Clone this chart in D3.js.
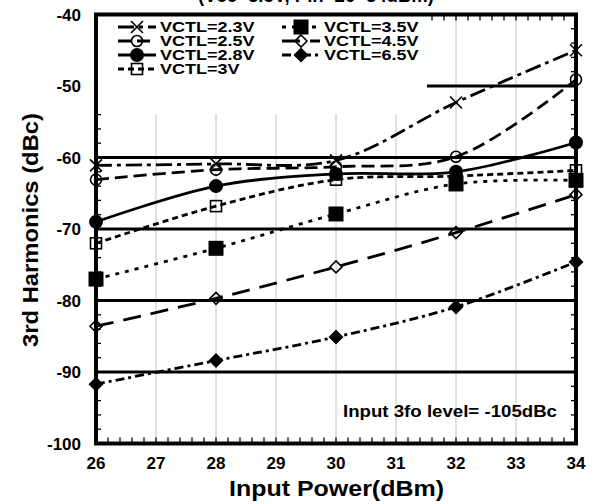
<!DOCTYPE html>
<html><head><meta charset="utf-8">
<script src="https://cdn.jsdelivr.net/npm/d3@7"></script>
<style>body{margin:0;background:#fff}svg{display:block}text{font-family:Arial,"Liberation Sans",sans-serif;font-weight:bold;fill:#000}</style>
</head><body><div id="chart"></div>
<script>
const inputPower = [26, 28, 30, 32, 34];
const seriesNames = ["VCTL=2.3V","VCTL=2.5V","VCTL=2.8V","VCTL=3V","VCTL=3.5V","VCTL=4.5V","VCTL=6.5V"];
const vctl23 = [-61.1, -60.9, -60.4, -52.3, -45.0];
const vctl25 = [-63.1, -61.7, -61.3, -59.9, -49.1];
const vctl28 = [-69.0, -64.0, -62.3, -62.0, -57.9];
const vctl30 = [-72.0, -66.8, -63.1, -62.6, -61.8];
const vctl35 = [-77.0, -72.7, -67.9, -63.7, -63.2];
const vctl45 = [-83.6, -79.7, -75.3, -70.5, -65.2];
const vctl65 = [-91.7, -88.4, -85.1, -80.9, -74.6];
const xTicks = [26, 27, 28, 29, 30, 31, 32, 33, 34];
const yTicks = [-40, -50, -60, -70, -80, -90, -100];
const titleText = "(Vcc=3.5V, Pin=26~34dBm)";
const xTitle = "Input Power(dBm)";
const yTitle = "3rd Harmonics (dBc)";
const note = "Input 3fo level= -105dBc";

const styles = [
  {dash:"16,5,4,5", marker:"cross"},
  {dash:"13,6", marker:"circleOpen"},
  {dash:null, marker:"circleFill"},
  {dash:"6,4", marker:"squareOpen"},
  {dash:"4,6", marker:"squareFill"},
  {dash:"18,10", marker:"diamondOpen"},
  {dash:"9,4,3,4", marker:"diamondFill"}
];
const allValues = [vctl23, vctl25, vctl28, vctl30, vctl35, vctl45, vctl65];

const W = 595, H = 504;
const svg = d3.select("#chart").append("svg").attr("width", W).attr("height", H);
const x = d3.scaleLinear().domain([26, 34]).range([96, 576]);
const y = d3.scaleLinear().domain([-100, -40]).range([443.5, 14.5]);

svg.append("g").selectAll("line").data(xTicks.slice(1, -1)).join("line")
  .attr("x1", d => x(d)).attr("x2", d => x(d)).attr("y1", y(-40)).attr("y2", y(-100))
  .attr("stroke", "#c4c4c4").attr("stroke-width", 1);
svg.append("g").selectAll("line").data(yTicks.slice(1, -1)).join("line")
  .attr("x1", x(26)).attr("x2", x(34)).attr("y1", d => y(d)).attr("y2", d => y(d))
  .attr("stroke", "#000").attr("stroke-width", 3);

const xMinor = d3.range(26, 34.001, 0.2);
const yMinor = d3.range(-100, -39.999, 2);
const tg = svg.append("g").attr("stroke", "#000").attr("stroke-width", 1.3);
tg.selectAll(".tb").data(xMinor).join("line").attr("x1", d => x(d)).attr("x2", d => x(d)).attr("y1", y(-100)).attr("y2", y(-100) - 6);
tg.selectAll(".tt").data(xMinor).join("line").attr("x1", d => x(d)).attr("x2", d => x(d)).attr("y1", y(-40)).attr("y2", y(-40) + 6);
tg.selectAll(".tl").data(yMinor).join("line").attr("x1", x(26)).attr("x2", x(26) + 5).attr("y1", d => y(d)).attr("y2", d => y(d));
tg.selectAll(".tr").data(yMinor).join("line").attr("x1", x(34)).attr("x2", x(34) - 5).attr("y1", d => y(d)).attr("y2", d => y(d));

const legX0 = 98, legY0 = 16, legX1 = 427, legY1 = 114;
svg.append("rect").attr("x", legX0).attr("y", legY0).attr("width", legX1 - legX0).attr("height", legY1 - legY0).attr("fill", "#fff");

function drawMarker(g, type, cx, cy) {
  const sw = 1.6;
  if (type === "cross") {
    const s = 6;
    g.append("path").attr("d", `M${cx-s},${cy-s}L${cx+s},${cy+s}M${cx-s},${cy+s}L${cx+s},${cy-s}`).attr("stroke", "#000").attr("stroke-width", sw).attr("fill", "none");
  } else if (type === "circleOpen") {
    g.append("circle").attr("cx", cx).attr("cy", cy).attr("r", 5.5).attr("fill", "none").attr("stroke", "#000").attr("stroke-width", sw);
  } else if (type === "circleFill") {
    g.append("circle").attr("cx", cx).attr("cy", cy).attr("r", 7).attr("fill", "#000");
  } else if (type === "squareOpen") {
    g.append("rect").attr("x", cx - 5.5).attr("y", cy - 5.5).attr("width", 11).attr("height", 11).attr("fill", "none").attr("stroke", "#000").attr("stroke-width", sw);
  } else if (type === "squareFill") {
    g.append("rect").attr("x", cx - 7.5).attr("y", cy - 7.5).attr("width", 15).attr("height", 15).attr("fill", "#000");
  } else if (type === "diamondOpen") {
    const s = 6;
    g.append("path").attr("d", `M${cx},${cy-s}L${cx+s},${cy}L${cx},${cy+s}L${cx-s},${cy}Z`).attr("fill", "none").attr("stroke", "#000").attr("stroke-width", sw);
  } else if (type === "diamondFill") {
    const s = 7.5;
    g.append("path").attr("d", `M${cx},${cy-s}L${cx+s},${cy}L${cx},${cy+s}L${cx-s},${cy}Z`).attr("fill", "#000");
  }
}

const line = d3.line().x(d => x(d[0])).y(d => y(d[1])).curve(d3.curveCatmullRom.alpha(0.5));
const curves = svg.append("g");
allValues.forEach((vals, i) => {
  const pts = inputPower.map((p, j) => [p, vals[j]]);
  curves.append("path").attr("d", line(pts)).attr("fill", "none").attr("stroke", "#000")
    .attr("stroke-width", 2.8).attr("stroke-dasharray", styles[i].dash);
});
const marks = svg.append("g");
allValues.forEach((vals, i) => {
  inputPower.forEach((p, j) => drawMarker(marks, styles[i].marker, x(p), y(vals[j])));
});

svg.append("rect").attr("x", x(26)).attr("y", y(-40)).attr("width", x(34) - x(26)).attr("height", y(-100) - y(-40))
  .attr("fill", "none").attr("stroke", "#000").attr("stroke-width", 4);

svg.append("g").selectAll("text").data(yTicks).join("text")
  .attr("x", 81).attr("y", d => y(d)).attr("dy", "0.36em").attr("text-anchor", "end")
  .attr("font-size", 17).text(d => d);
svg.append("g").selectAll("text").data(xTicks).join("text")
  .attr("x", d => x(d)).attr("y", 469).attr("text-anchor", "middle")
  .attr("font-size", 17).text(d => d);

svg.append("text").attr("x", 229).attr("y", 496).attr("font-size", 22)
  .attr("textLength", 215).attr("lengthAdjust", "spacingAndGlyphs").text(xTitle);
svg.append("text").attr("transform", `translate(38,347) rotate(-90)`).attr("font-size", 22)
  .attr("textLength", 234).attr("lengthAdjust", "spacingAndGlyphs").text(yTitle);
svg.append("text").attr("x", 198).attr("y", 2).attr("font-size", 20)
  .attr("textLength", 236).attr("lengthAdjust", "spacingAndGlyphs").text(titleText);

svg.append("text").attr("x", 343).attr("y", 417).attr("font-size", 16.5)
  .attr("textLength", 214).attr("lengthAdjust", "spacingAndGlyphs").text(note);

const legRows = [
  {c: 0, r: 0}, {c: 0, r: 1}, {c: 0, r: 2}, {c: 0, r: 3},
  {c: 1, r: 0}, {c: 1, r: 1}, {c: 1, r: 2}
];
const colX = [118, 282], rowY0 = 27, rowDy = 14, lineLen = 38;
const lg = svg.append("g");
seriesNames.forEach((name, i) => {
  const lx = colX[legRows[i].c], ly = rowY0 + legRows[i].r * rowDy;
  lg.append("line").attr("x1", lx).attr("x2", lx + lineLen).attr("y1", ly).attr("y2", ly)
    .attr("stroke", "#000").attr("stroke-width", 2.8).attr("stroke-dasharray", styles[i].dash);
  drawMarker(lg, styles[i].marker, lx + lineLen / 2, ly);
  const t = lg.append("text").attr("x", lx + lineLen + 4).attr("y", ly).attr("dy", "0.36em").attr("font-size", 15).text(name);
  const w = t.node().getComputedTextLength();
  t.attr("textLength", w * 1.2).attr("lengthAdjust", "spacingAndGlyphs");
});
</script></body></html>
